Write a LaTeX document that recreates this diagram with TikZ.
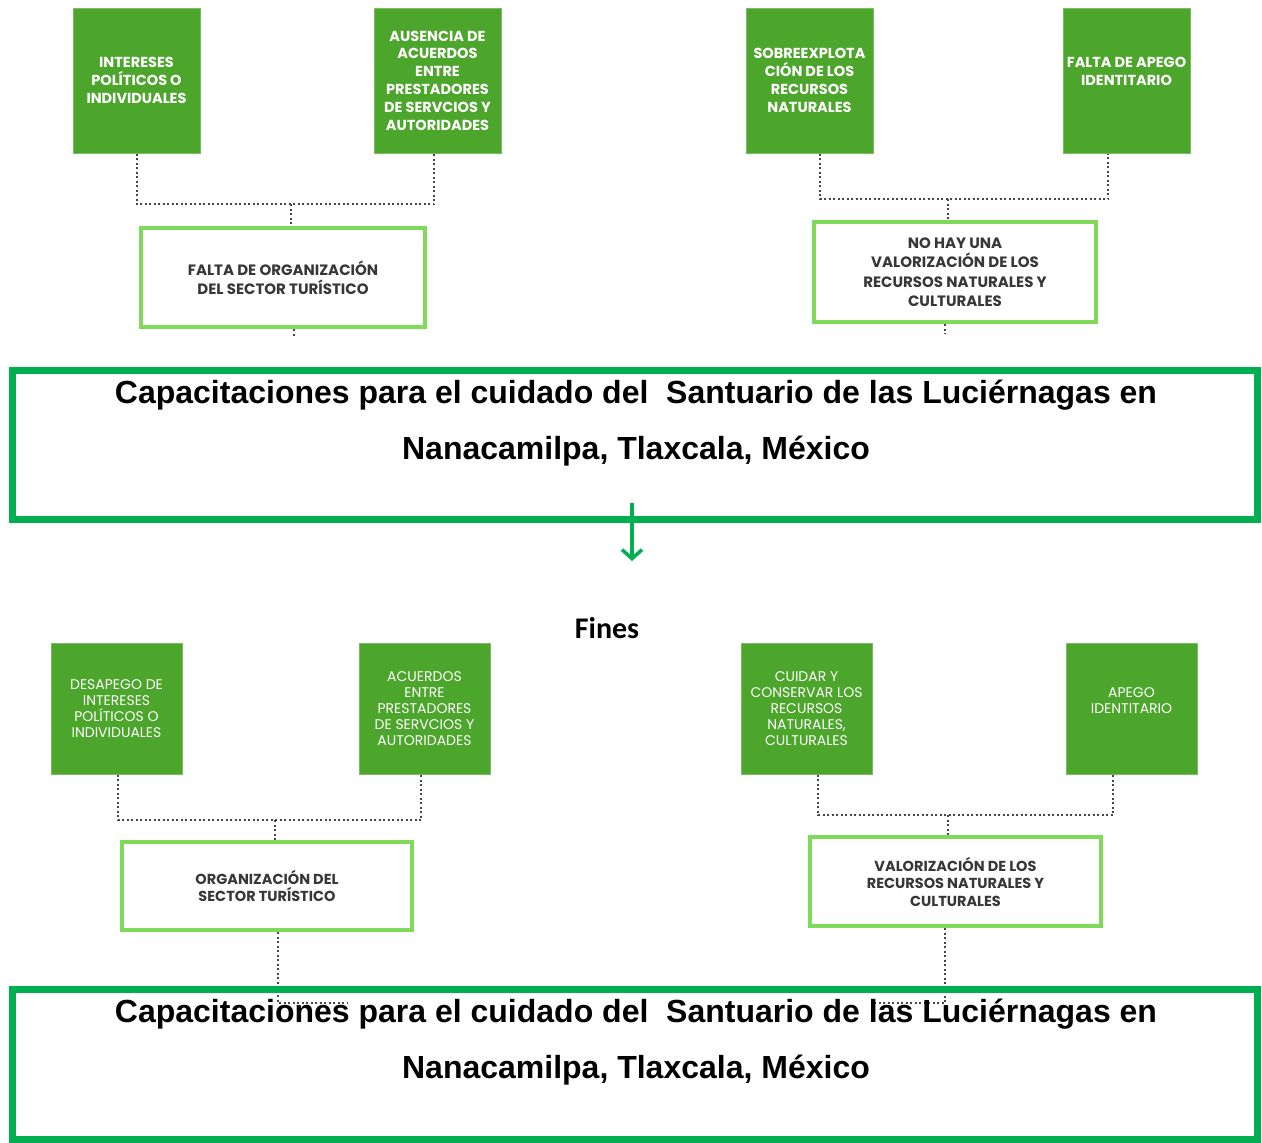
\documentclass[tikz,border=0pt]{standalone}
\usepackage{fontspec}
\setmainfont{Liberation Sans}
\newfontfamily\boxfont{Poppins}
\newfontfamily\finesfont{Carlito}
\usetikzlibrary{positioning, calc, arrows.meta}
\definecolor{causefill}{RGB}{77, 166, 44}
\definecolor{effectline}{RGB}{126, 218, 88}
\definecolor{mainline}{RGB}{0, 176, 80}
\definecolor{effecttext}{RGB}{55, 55, 55}
\definecolor{linkgray}{RGB}{70, 70, 70}

\begin{document}
\begin{tikzpicture}[x=1pt, y=-1pt,
    causebox/.style={draw=causefill!75!white, line width=1pt, fill=causefill, text=white, inner sep=0pt,
        minimum width=127pt, minimum height=145pt, align=center,
        font={\boxfont\bfseries\fontsize{14.5}{17.8}\selectfont}},
    finbox/.style={causebox, minimum width=131pt, minimum height=131pt,
        font={\boxfont\fontsize{14}{16}\selectfont}},
    effectbox/.style={draw=effectline, line width=4pt, fill=white, text=effecttext, inner sep=0pt, align=center},
    mainbox/.style={draw=mainline, line width=7pt, minimum width=1245pt, minimum height=149pt, inner sep=0pt},
    titletext/.style={anchor=north, inner sep=0pt, align=center, font={\bfseries\fontsize{32}{56}\selectfont}},
    link/.style={draw=linkgray, line width=2pt, dash pattern=on 2pt off 2.5pt}]
    \useasboundingbox (0,0) rectangle (1262,1143);

    % causas
    \node[causebox] (interes) at (136.5,80.5) {INTERESES\\POLÍTICOS O\\INDIVIDUALES};
    \node[causebox] (ausencia) at (437.5,80.5) {AUSENCIA DE\\ACUERDOS\\ENTRE\\PRESTADORES\\DE SERVCIOS Y\\AUTORIDADES};
    \node[causebox] (sobre) at (809.5,80.5) {SOBREEXPLOTA\\CIÓN DE LOS\\RECURSOS\\NATURALES};
    \node[causebox] (apego) at (1126.5,80.5) {FALTA DE APEGO\\IDENTITARIO\\\mbox{}};

    \node[effectbox, minimum width=284pt, minimum height=99pt, font={\boxfont\bfseries\fontsize{15}{19.5}\selectfont}]
        (faltaorg) at (283,277.5) {FALTA DE ORGANIZACIÓN\\DEL SECTOR TURÍSTICO};
    \node[effectbox, minimum width=282pt, minimum height=100pt, font={\boxfont\bfseries\fontsize{15}{19.5}\selectfont}]
        (novalor) at (955,272) {NO HAY UNA\\VALORIZACIÓN DE LOS\\RECURSOS NATURALES Y\\CULTURALES};

    \coordinate (jinteres) at (291,204);
    \draw[link] (interes.south) |- (jinteres) -| (ausencia.south -| 434,0);
    \draw[link] (jinteres) -- (jinteres |- faltaorg.north);
    \coordinate (faltastub) at (294,337);
    \draw[link] (faltaorg.south -| faltastub) -- (faltastub);

    \coordinate (jsobre) at (948,199);
    \draw[link] (sobre.south -| 820,0) |- (jsobre) -| (apego.south -| 1108,0);
    \draw[link] (jsobre) -- (jsobre |- novalor.north);
    \coordinate (novalorstub) at (945,334);
    \draw[link] (novalor.south -| novalorstub) -- (novalorstub);

    \node[mainbox] (probtop) at (635,445) {};
    \node[titletext] (titletop) at (636,380) {Capacitaciones para el cuidado del\ \ Santuario de las Luciérnagas en\\Nanacamilpa, Tlaxcala, México};

    \coordinate (arrowtop) at (632,503);
    \coordinate (arrowend) at (632,561);
    \draw[mainline, line width=3.5pt, -{Straight Barb[length=9pt, width=20pt]}] (arrowtop) -- (arrowend);

    % fines
    \node[inner sep=0pt, font={\finesfont\bfseries\fontsize{30}{36}\selectfont}] (fines) at (607,628) {Fines};

    \node[finbox] (desapego) at (116.5,708.5) {DESAPEGO DE\\INTERESES\\POLÍTICOS O\\INDIVIDUALES};
    \node[finbox] (acuerdos) at (424.5,708.5) {ACUERDOS\\ENTRE\\PRESTADORES\\DE SERVCIOS Y\\AUTORIDADES};
    \node[finbox] (cuidar) at (806.5,708.5) {CUIDAR Y\\CONSERVAR LOS\\RECURSOS\\NATURALES,\\CULTURALES};
    \node[finbox] (apegoid) at (1131.5,708.5) {APEGO\\IDENTITARIO\\\mbox{}};

    \node[effectbox, minimum width=290pt, minimum height=88pt, font={\boxfont\bfseries\fontsize{14.5}{17}\selectfont}]
        (organiz) at (267,886) {ORGANIZACIÓN DEL\\SECTOR TURÍSTICO};
    \node[effectbox, minimum width=291pt, minimum height=89pt, font={\boxfont\bfseries\fontsize{14.5}{17.5}\selectfont}]
        (valor) at (955.5,881.5) {VALORIZACIÓN DE LOS\\RECURSOS NATURALES Y\\CULTURALES};

    \coordinate (jdesapego) at (275,820);
    \draw[link] (desapego.south -| 118,0) |- (jdesapego) -| (acuerdos.south -| 421,0);
    \draw[link] (jdesapego) -- (jdesapego |- organiz.north);

    \coordinate (jcuidar) at (948,815);
    \draw[link] (cuidar.south -| 818,0) |- (jcuidar) -| (apegoid.south -| 1113,0);
    \draw[link] (jcuidar) -- (jcuidar |- valor.north);

    \coordinate (organizend) at (347,1003);
    \draw[link] (organiz.south -| 278,0) |- (organizend);
    \coordinate (valorend) at (875,1003);
    \draw[link] (valor.south -| 945,0) |- (valorend);

    \node[mainbox, minimum height=150pt] (probbottom) at (635,1064.5) {};
    \node[titletext] (titlebottom) at (636,999) {Capacitaciones para el cuidado del\ \ Santuario de las Luciérnagas en\\Nanacamilpa, Tlaxcala, México};
\end{tikzpicture}
\end{document}
